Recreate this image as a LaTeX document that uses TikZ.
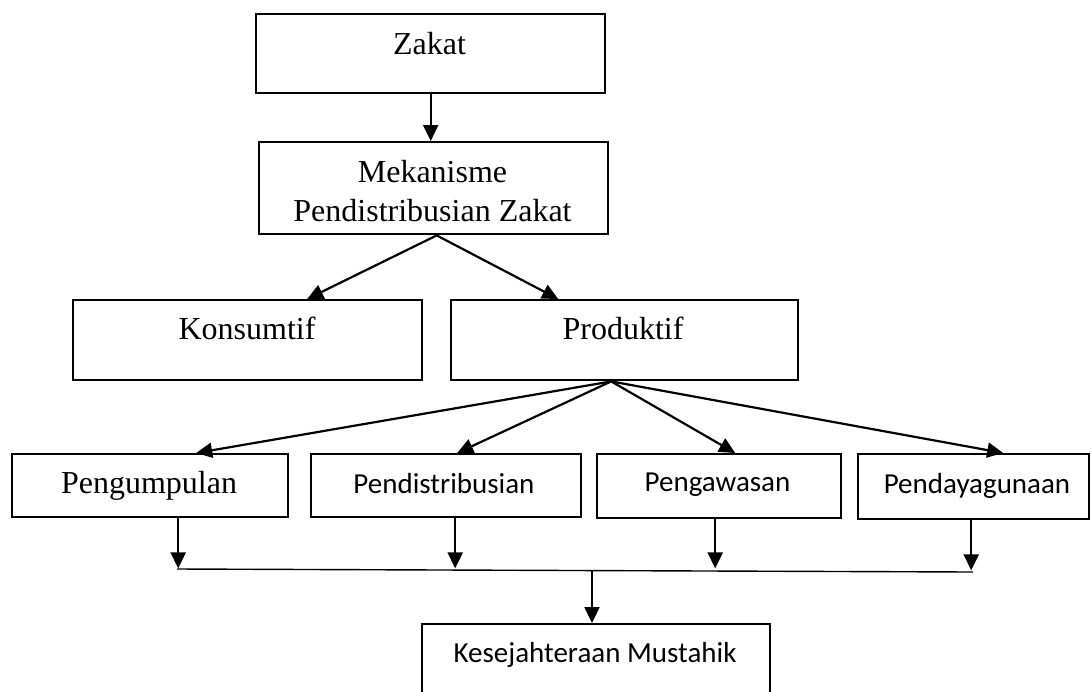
\documentclass[tikz,border=0pt]{standalone}
\usepackage{fontspec}
\setmainfont{Liberation Serif}
\newfontfamily\calfont{Carlito}
\usetikzlibrary{arrows.meta,calc}
\begin{document}
\begin{tikzpicture}[x=1pt,y=-1pt,
  box/.style={draw,line width=2.4pt,inner sep=0pt,anchor=north west},
  tnr/.style={anchor=base,inner sep=0pt,font=\fontsize{32}{38}\selectfont},
  cal/.style={anchor=base,inner sep=0pt,font=\calfont\fontsize{29}{35}\selectfont},
  arr/.style={line width=2.2pt,-{Triangle[length=16pt,width=15pt]}},
  bus/.style={line width=1.4pt},
]
\useasboundingbox (0,0) rectangle (1091,691);
\clip (0,0) rectangle (1091,691);
% boxes
\node[box,minimum width=349pt,minimum height=79pt] (zakat) at (255,13) {};
\node[box,minimum width=349pt,minimum height=92pt] (mek) at (258,141) {};
\node[box,minimum width=349pt,minimum height=80pt] (kons) at (72,299) {};
\node[box,minimum width=347pt,minimum height=80pt] (prod) at (450,299) {};
\node[box,minimum width=276pt,minimum height=63pt] (peng) at (11,453) {};
\node[box,minimum width=270pt,minimum height=63pt] (pdis) at (310,453) {};
\node[box,minimum width=244pt,minimum height=64pt] (pgw) at (596,453) {};
\node[box,minimum width=231pt,minimum height=65pt] (pday) at (857,453) {};
\node[box,minimum width=348pt,minimum height=110pt] (kes) at (421,623) {};
% texts
\node[tnr] (zakat-t) at (429.5,54) {Zakat};
\node[tnr] (mek-t1) at (432.5,182) {Mekanisme};
\node[tnr] (mek-t2) at (432.5,221) {Pendistribusian Zakat};
\node[tnr] (kons-t) at (247,339) {Konsumtif};
\node[tnr] (prod-t) at (623,339) {Produktif};
\node[tnr] (peng-t) at (149,493) {Pengumpulan};
\node[cal] (pdis-t) at (444,493) {Pendistribusian};
\node[cal] (pgw-t) at (717.5,491) {Pengawasan};
\node[cal] (pday-t) at (977,493) {Pendayagunaan};
\node[cal] (kes-t) at (595,662) {Kesejahteraan Mustahik};
% connectors
\draw[arr] (zakat.south) -- (zakat.south |- mek.north);
\draw[arr] ([xshift=3pt]mek.south) -- ([xshift=59.5pt]kons.north);
\draw[arr] ([xshift=3pt]mek.south) -- ([xshift=-66.5pt]prod.north);
\draw[arr] ([xshift=-13.5pt]prod.south) -- ([xshift=46pt]peng.north);
\draw[arr] ([xshift=-13.5pt]prod.south) -- ([xshift=11pt]pdis.north);
\draw[arr] ([xshift=-13.5pt]prod.south) -- ([xshift=16pt]pgw.north);
\draw[arr] ([xshift=-13.5pt]prod.south) -- ([xshift=29.5pt]pday.north);
\draw[arr] ([xshift=28pt]peng.south) -- ++(0,50);
\draw[arr] ([xshift=9pt]pdis.south) -- ++(0,50);
\draw[arr] ([xshift=-4pt]pgw.south) -- ++(0,49);
\draw[arr] ([xshift=-2.5pt]pday.south) -- ++(0,50);
\coordinate (busL) at (177,569);
\coordinate (busR) at (973,572);
\coordinate (busM) at (592,570);
\draw[bus] (busL) -- (busR);
\draw[arr] (busM) -- (busM |- kes.north);
\end{tikzpicture}
\end{document}
